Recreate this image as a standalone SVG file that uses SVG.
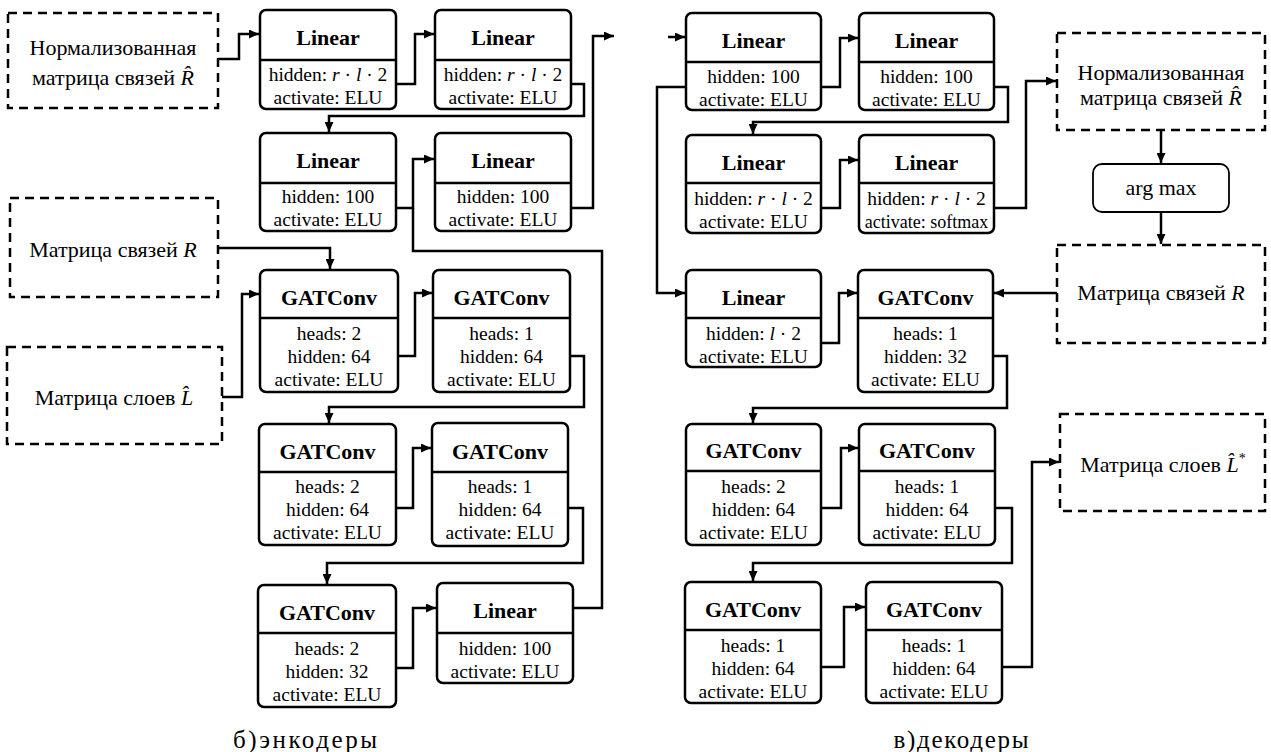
<svg xmlns="http://www.w3.org/2000/svg" width="1271" height="752" viewBox="0 0 1271 752">
  <defs>
    <marker id="arrow" markerUnits="userSpaceOnUse" markerWidth="11" markerHeight="9" refX="10" refY="4.5" orient="auto">
      <path d="M0,0 L10,4.5 L0,9 z" fill="#000"/>
    </marker>
  </defs>
  <rect width="1271" height="752" fill="#fff"/>

  <!-- connectors -->
  <g id="connectors" fill="none" stroke="#000" stroke-width="2.5" marker-end="url(#arrow)">
    <!-- encoder -->
    <path d="M218,59 H239 V34 H259"/>
    <path d="M396,84 H415 V34 H434"/>
    <path d="M571,84 H584 V116 H329 V132"/>
    <path d="M396,208 H413 V159 H434"/>
    <path d="M571,208 H593 V36 H614"/>
    <path d="M218,248 H330 V269"/>
    <path d="M222,397 H242 V294 H259"/>
    <path d="M398,356 H415 V293 H432"/>
    <path d="M570,356 H584 V407 H329 V423"/>
    <path d="M396,508 H413 V448 H431"/>
    <path d="M568,508 H583 V563 H327 V584"/>
    <path d="M396,668 H413 V608 H436"/>
    <path d="M573,608 H602 V251 H413 V208" marker-end="none"/>
    <!-- decoder -->
    <path d="M668,37 H685"/>
    <path d="M821,87 H840 V38 H858"/>
    <path d="M994,87 H1008 V122 H753 V134"/>
    <path d="M821,208 H840 V160 H858"/>
    <path d="M994,208 H1026 V81 H1056"/>
    <path d="M686,87 H657 V293 H685"/>
    <path d="M1161,130 V163"/>
    <path d="M1161,212 V244"/>
    <path d="M1057,293 H994"/>
    <path d="M821,343 H839 V293 H857"/>
    <path d="M993,356 H1007 V408 H753 V423"/>
    <path d="M821,508 H841 V448 H858"/>
    <path d="M995,508 H1012 V563 H753 V581"/>
    <path d="M821,667 H844 V607 H865"/>
    <path d="M1002,667 H1032 V462 H1059"/>
  </g>

  <!-- encoder inputs -->
  <g id="enc-in-rhat">
    <rect x="8" y="13" width="210" height="95" fill="#fff" stroke="#000" stroke-width="2.5" stroke-dasharray="9 6"/>
    <text x="113" y="55" text-anchor="middle" font-family="Liberation Serif" font-size="22">Нормализованная</text>
    <text x="113" y="85" text-anchor="middle" font-family="Liberation Serif" font-size="22">матрица связей <tspan font-style="italic">R̂</tspan></text>
  </g>
  <g id="enc-in-r">
    <rect x="10" y="198" width="208" height="99" fill="#fff" stroke="#000" stroke-width="2.5" stroke-dasharray="9 6"/>
    <text x="113" y="257" text-anchor="middle" font-family="Liberation Serif" font-size="22">Матрица связей <tspan font-style="italic">R</tspan></text>
  </g>
  <g id="enc-in-lhat">
    <rect x="7" y="347" width="215" height="97" fill="#fff" stroke="#000" stroke-width="2.5" stroke-dasharray="9 6"/>
    <text x="114" y="405" text-anchor="middle" font-family="Liberation Serif" font-size="22">Матрица слоев <tspan font-style="italic">L̂</tspan></text>
  </g>

  <!-- encoder layers -->
  <g id="enc-linear-1">
    <rect x="260" y="10" width="136" height="99" rx="6" fill="#fff" stroke="#000" stroke-width="2.5"/>
    <line x1="260" y1="60" x2="396" y2="60" stroke="#000" stroke-width="2.5"/>
    <text x="328" y="45" text-anchor="middle" font-family="Liberation Serif" font-size="22" font-weight="bold">Linear</text>
    <text x="328" y="81" text-anchor="middle" font-family="Liberation Serif" font-size="19.5">hidden: <tspan font-style="italic">r</tspan> · <tspan font-style="italic">l</tspan> · 2</text>
    <text x="328" y="104" text-anchor="middle" font-family="Liberation Serif" font-size="19.5">activate: ELU</text>
  </g>
  <g id="enc-linear-2">
    <rect x="435" y="10" width="136" height="99" rx="6" fill="#fff" stroke="#000" stroke-width="2.5"/>
    <line x1="435" y1="60" x2="571" y2="60" stroke="#000" stroke-width="2.5"/>
    <text x="503" y="45" text-anchor="middle" font-family="Liberation Serif" font-size="22" font-weight="bold">Linear</text>
    <text x="503" y="81" text-anchor="middle" font-family="Liberation Serif" font-size="19.5">hidden: <tspan font-style="italic">r</tspan> · <tspan font-style="italic">l</tspan> · 2</text>
    <text x="503" y="104" text-anchor="middle" font-family="Liberation Serif" font-size="19.5">activate: ELU</text>
  </g>
  <g id="enc-linear-3">
    <rect x="260" y="133" width="136" height="98" rx="6" fill="#fff" stroke="#000" stroke-width="2.5"/>
    <line x1="260" y1="183" x2="396" y2="183" stroke="#000" stroke-width="2.5"/>
    <text x="328" y="168" text-anchor="middle" font-family="Liberation Serif" font-size="22" font-weight="bold">Linear</text>
    <text x="328" y="203" text-anchor="middle" font-family="Liberation Serif" font-size="19.5">hidden: 100</text>
    <text x="328" y="226" text-anchor="middle" font-family="Liberation Serif" font-size="19.5">activate: ELU</text>
  </g>
  <g id="enc-linear-4">
    <rect x="435" y="133" width="136" height="98" rx="6" fill="#fff" stroke="#000" stroke-width="2.5"/>
    <line x1="435" y1="183" x2="571" y2="183" stroke="#000" stroke-width="2.5"/>
    <text x="503" y="168" text-anchor="middle" font-family="Liberation Serif" font-size="22" font-weight="bold">Linear</text>
    <text x="503" y="203" text-anchor="middle" font-family="Liberation Serif" font-size="19.5">hidden: 100</text>
    <text x="503" y="226" text-anchor="middle" font-family="Liberation Serif" font-size="19.5">activate: ELU</text>
  </g>
  <g id="enc-gat-1">
    <rect x="260" y="270" width="138" height="122" rx="6" fill="#fff" stroke="#000" stroke-width="2.5"/>
    <line x1="260" y1="318" x2="398" y2="318" stroke="#000" stroke-width="2.5"/>
    <text x="329" y="305" text-anchor="middle" font-family="Liberation Serif" font-size="22" font-weight="bold">GATConv</text>
    <text x="329" y="340" text-anchor="middle" font-family="Liberation Serif" font-size="19.5">heads: 2</text>
    <text x="329" y="363" text-anchor="middle" font-family="Liberation Serif" font-size="19.5">hidden: 64</text>
    <text x="329" y="386" text-anchor="middle" font-family="Liberation Serif" font-size="19.5">activate: ELU</text>
  </g>
  <g id="enc-gat-2">
    <rect x="433" y="270" width="137" height="122" rx="6" fill="#fff" stroke="#000" stroke-width="2.5"/>
    <line x1="433" y1="318" x2="570" y2="318" stroke="#000" stroke-width="2.5"/>
    <text x="501.5" y="305" text-anchor="middle" font-family="Liberation Serif" font-size="22" font-weight="bold">GATConv</text>
    <text x="501.5" y="340" text-anchor="middle" font-family="Liberation Serif" font-size="19.5">heads: 1</text>
    <text x="501.5" y="363" text-anchor="middle" font-family="Liberation Serif" font-size="19.5">hidden: 64</text>
    <text x="501.5" y="386" text-anchor="middle" font-family="Liberation Serif" font-size="19.5">activate: ELU</text>
  </g>
  <g id="enc-gat-3">
    <rect x="259" y="424" width="137" height="121" rx="6" fill="#fff" stroke="#000" stroke-width="2.5"/>
    <line x1="259" y1="472" x2="396" y2="472" stroke="#000" stroke-width="2.5"/>
    <text x="327.5" y="459" text-anchor="middle" font-family="Liberation Serif" font-size="22" font-weight="bold">GATConv</text>
    <text x="327.5" y="493" text-anchor="middle" font-family="Liberation Serif" font-size="19.5">heads: 2</text>
    <text x="327.5" y="516" text-anchor="middle" font-family="Liberation Serif" font-size="19.5">hidden: 64</text>
    <text x="327.5" y="539" text-anchor="middle" font-family="Liberation Serif" font-size="19.5">activate: ELU</text>
  </g>
  <g id="enc-gat-4">
    <rect x="432" y="423" width="136" height="123" rx="6" fill="#fff" stroke="#000" stroke-width="2.5"/>
    <line x1="432" y1="472" x2="568" y2="472" stroke="#000" stroke-width="2.5"/>
    <text x="500" y="459" text-anchor="middle" font-family="Liberation Serif" font-size="22" font-weight="bold">GATConv</text>
    <text x="500" y="493" text-anchor="middle" font-family="Liberation Serif" font-size="19.5">heads: 1</text>
    <text x="500" y="516" text-anchor="middle" font-family="Liberation Serif" font-size="19.5">hidden: 64</text>
    <text x="500" y="539" text-anchor="middle" font-family="Liberation Serif" font-size="19.5">activate: ELU</text>
  </g>
  <g id="enc-gat-5">
    <rect x="258" y="585" width="138" height="122" rx="6" fill="#fff" stroke="#000" stroke-width="2.5"/>
    <line x1="258" y1="633" x2="396" y2="633" stroke="#000" stroke-width="2.5"/>
    <text x="327" y="620" text-anchor="middle" font-family="Liberation Serif" font-size="22" font-weight="bold">GATConv</text>
    <text x="327" y="655" text-anchor="middle" font-family="Liberation Serif" font-size="19.5">heads: 2</text>
    <text x="327" y="678" text-anchor="middle" font-family="Liberation Serif" font-size="19.5">hidden: 32</text>
    <text x="327" y="701" text-anchor="middle" font-family="Liberation Serif" font-size="19.5">activate: ELU</text>
  </g>
  <g id="enc-linear-5">
    <rect x="437" y="583" width="136" height="100" rx="6" fill="#fff" stroke="#000" stroke-width="2.5"/>
    <line x1="437" y1="633" x2="573" y2="633" stroke="#000" stroke-width="2.5"/>
    <text x="505" y="618" text-anchor="middle" font-family="Liberation Serif" font-size="22" font-weight="bold">Linear</text>
    <text x="505" y="655" text-anchor="middle" font-family="Liberation Serif" font-size="19.5">hidden: 100</text>
    <text x="505" y="678" text-anchor="middle" font-family="Liberation Serif" font-size="19.5">activate: ELU</text>
  </g>

  <!-- decoder layers -->
  <g id="dec-linear-1">
    <rect x="686" y="13" width="135" height="97" rx="6" fill="#fff" stroke="#000" stroke-width="2.5"/>
    <line x1="686" y1="62" x2="821" y2="62" stroke="#000" stroke-width="2.5"/>
    <text x="753.5" y="48" text-anchor="middle" font-family="Liberation Serif" font-size="22" font-weight="bold">Linear</text>
    <text x="753.5" y="83" text-anchor="middle" font-family="Liberation Serif" font-size="19.5">hidden: 100</text>
    <text x="753.5" y="106" text-anchor="middle" font-family="Liberation Serif" font-size="19.5">activate: ELU</text>
  </g>
  <g id="dec-linear-2">
    <rect x="859" y="13" width="135" height="97" rx="6" fill="#fff" stroke="#000" stroke-width="2.5"/>
    <line x1="859" y1="62" x2="994" y2="62" stroke="#000" stroke-width="2.5"/>
    <text x="926.5" y="48" text-anchor="middle" font-family="Liberation Serif" font-size="22" font-weight="bold">Linear</text>
    <text x="926.5" y="83" text-anchor="middle" font-family="Liberation Serif" font-size="19.5">hidden: 100</text>
    <text x="926.5" y="106" text-anchor="middle" font-family="Liberation Serif" font-size="19.5">activate: ELU</text>
  </g>
  <g id="dec-linear-3">
    <rect x="686" y="135" width="135" height="98" rx="6" fill="#fff" stroke="#000" stroke-width="2.5"/>
    <line x1="686" y1="183" x2="821" y2="183" stroke="#000" stroke-width="2.5"/>
    <text x="753.5" y="170" text-anchor="middle" font-family="Liberation Serif" font-size="22" font-weight="bold">Linear</text>
    <text x="753.5" y="205" text-anchor="middle" font-family="Liberation Serif" font-size="19.5">hidden: <tspan font-style="italic">r</tspan> · <tspan font-style="italic">l</tspan> · 2</text>
    <text x="753.5" y="228" text-anchor="middle" font-family="Liberation Serif" font-size="19.5">activate: ELU</text>
  </g>
  <g id="dec-linear-4">
    <rect x="859" y="135" width="135" height="98" rx="6" fill="#fff" stroke="#000" stroke-width="2.5"/>
    <line x1="859" y1="183" x2="994" y2="183" stroke="#000" stroke-width="2.5"/>
    <text x="926.5" y="170" text-anchor="middle" font-family="Liberation Serif" font-size="22" font-weight="bold">Linear</text>
    <text x="926.5" y="205" text-anchor="middle" font-family="Liberation Serif" font-size="19.5">hidden: <tspan font-style="italic">r</tspan> · <tspan font-style="italic">l</tspan> · 2</text>
    <text x="926.5" y="228" text-anchor="middle" font-family="Liberation Serif" font-size="18">activate: softmax</text>
  </g>
  <g id="dec-linear-5">
    <rect x="686" y="270" width="135" height="97" rx="6" fill="#fff" stroke="#000" stroke-width="2.5"/>
    <line x1="686" y1="318" x2="821" y2="318" stroke="#000" stroke-width="2.5"/>
    <text x="753.5" y="305" text-anchor="middle" font-family="Liberation Serif" font-size="22" font-weight="bold">Linear</text>
    <text x="753.5" y="340" text-anchor="middle" font-family="Liberation Serif" font-size="19.5">hidden: <tspan font-style="italic">l</tspan> · 2</text>
    <text x="753.5" y="363" text-anchor="middle" font-family="Liberation Serif" font-size="19.5">activate: ELU</text>
  </g>
  <g id="dec-gat-1">
    <rect x="858" y="270" width="135" height="122" rx="6" fill="#fff" stroke="#000" stroke-width="2.5"/>
    <line x1="858" y1="318" x2="993" y2="318" stroke="#000" stroke-width="2.5"/>
    <text x="925.5" y="305" text-anchor="middle" font-family="Liberation Serif" font-size="22" font-weight="bold">GATConv</text>
    <text x="925.5" y="340" text-anchor="middle" font-family="Liberation Serif" font-size="19.5">heads: 1</text>
    <text x="925.5" y="363" text-anchor="middle" font-family="Liberation Serif" font-size="19.5">hidden: 32</text>
    <text x="925.5" y="386" text-anchor="middle" font-family="Liberation Serif" font-size="19.5">activate: ELU</text>
  </g>
  <g id="dec-gat-2">
    <rect x="686" y="424" width="135" height="121" rx="6" fill="#fff" stroke="#000" stroke-width="2.5"/>
    <line x1="686" y1="471" x2="821" y2="471" stroke="#000" stroke-width="2.5"/>
    <text x="753.5" y="458" text-anchor="middle" font-family="Liberation Serif" font-size="22" font-weight="bold">GATConv</text>
    <text x="753.5" y="493" text-anchor="middle" font-family="Liberation Serif" font-size="19.5">heads: 2</text>
    <text x="753.5" y="516" text-anchor="middle" font-family="Liberation Serif" font-size="19.5">hidden: 64</text>
    <text x="753.5" y="539" text-anchor="middle" font-family="Liberation Serif" font-size="19.5">activate: ELU</text>
  </g>
  <g id="dec-gat-3">
    <rect x="859" y="424" width="136" height="121" rx="6" fill="#fff" stroke="#000" stroke-width="2.5"/>
    <line x1="859" y1="471" x2="995" y2="471" stroke="#000" stroke-width="2.5"/>
    <text x="927" y="458" text-anchor="middle" font-family="Liberation Serif" font-size="22" font-weight="bold">GATConv</text>
    <text x="927" y="493" text-anchor="middle" font-family="Liberation Serif" font-size="19.5">heads: 1</text>
    <text x="927" y="516" text-anchor="middle" font-family="Liberation Serif" font-size="19.5">hidden: 64</text>
    <text x="927" y="539" text-anchor="middle" font-family="Liberation Serif" font-size="19.5">activate: ELU</text>
  </g>
  <g id="dec-gat-4">
    <rect x="685" y="582" width="136" height="121" rx="6" fill="#fff" stroke="#000" stroke-width="2.5"/>
    <line x1="685" y1="630" x2="821" y2="630" stroke="#000" stroke-width="2.5"/>
    <text x="753" y="617" text-anchor="middle" font-family="Liberation Serif" font-size="22" font-weight="bold">GATConv</text>
    <text x="753" y="652" text-anchor="middle" font-family="Liberation Serif" font-size="19.5">heads: 1</text>
    <text x="753" y="675" text-anchor="middle" font-family="Liberation Serif" font-size="19.5">hidden: 64</text>
    <text x="753" y="698" text-anchor="middle" font-family="Liberation Serif" font-size="19.5">activate: ELU</text>
  </g>
  <g id="dec-gat-5">
    <rect x="866" y="582" width="136" height="121" rx="6" fill="#fff" stroke="#000" stroke-width="2.5"/>
    <line x1="866" y1="630" x2="1002" y2="630" stroke="#000" stroke-width="2.5"/>
    <text x="934" y="617" text-anchor="middle" font-family="Liberation Serif" font-size="22" font-weight="bold">GATConv</text>
    <text x="934" y="652" text-anchor="middle" font-family="Liberation Serif" font-size="19.5">heads: 1</text>
    <text x="934" y="675" text-anchor="middle" font-family="Liberation Serif" font-size="19.5">hidden: 64</text>
    <text x="934" y="698" text-anchor="middle" font-family="Liberation Serif" font-size="19.5">activate: ELU</text>
  </g>

  <!-- decoder outputs -->
  <g id="dec-out-rhat">
    <rect x="1057" y="33" width="208" height="97" fill="#fff" stroke="#000" stroke-width="2.5" stroke-dasharray="9 6"/>
    <text x="1161" y="80" text-anchor="middle" font-family="Liberation Serif" font-size="22">Нормализованная</text>
    <text x="1161" y="105" text-anchor="middle" font-family="Liberation Serif" font-size="22">матрица связей <tspan font-style="italic">R̂</tspan></text>
  </g>
  <g id="dec-argmax">
    <rect x="1093" y="164" width="136" height="48" rx="9" fill="#fff" stroke="#000" stroke-width="1.8"/>
    <text x="1161" y="195" text-anchor="middle" font-family="Liberation Serif" font-size="22">arg max</text>
  </g>
  <g id="dec-out-r">
    <rect x="1057" y="245" width="208" height="98" fill="#fff" stroke="#000" stroke-width="2.5" stroke-dasharray="9 6"/>
    <text x="1161" y="300" text-anchor="middle" font-family="Liberation Serif" font-size="22">Матрица связей <tspan font-style="italic">R</tspan></text>
  </g>
  <g id="dec-out-lhat">
    <rect x="1060" y="414" width="205" height="97" fill="#fff" stroke="#000" stroke-width="2.5" stroke-dasharray="9 6"/>
    <text x="1163" y="472" text-anchor="middle" font-family="Liberation Serif" font-size="22">Матрица слоев <tspan font-style="italic">L̂</tspan><tspan font-size="14" dy="-9">*</tspan></text>
  </g>

  <!-- captions -->
  <g id="captions">
    <text x="305" y="748" text-anchor="middle" textLength="144" lengthAdjust="spacing" font-family="Liberation Serif" font-size="25">б)энкодеры</text>
    <text x="961" y="748" text-anchor="middle" textLength="135" lengthAdjust="spacing" font-family="Liberation Serif" font-size="25">в)декодеры</text>
  </g>
</svg>
